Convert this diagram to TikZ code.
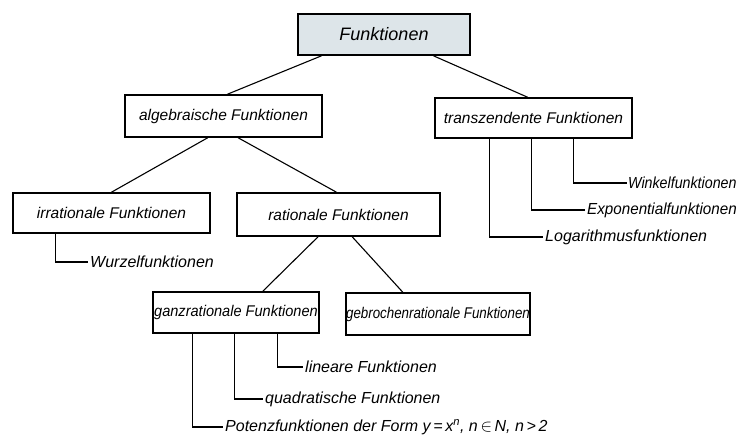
\documentclass[tikz,border=0pt]{standalone}
\usepackage{fontspec}
\setmainfont{Liberation Sans}
\usetikzlibrary{calc}
\definecolor{headfill}{HTML}{DDE5E9}

\begin{document}
\begin{tikzpicture}[x=1pt,y=-1pt,
    box/.style={draw,line width=1.6pt,inner sep=0pt,font=\fontsize{15.5}{18}\selectfont\itshape},
    leaf/.style={anchor=west,inner sep=2pt,font=\fontsize{16}{18}\selectfont\itshape},
    link/.style={line width=1.1pt}]
    \useasboundingbox (0,0) rectangle (738,440);

    % boxes
    \node[box,fill=headfill,minimum width=172pt,minimum height=41pt,font=\fontsize{18}{20}\selectfont\itshape] (fkt) at (384,34.5) {Funktionen};
    \node[box,minimum width=197pt,minimum height=42pt] (alg) at (223.5,116) {algebraische Funktionen};
    \node[box,minimum width=197pt,minimum height=40pt] (trans) at (533.5,118) {transzendente Funktionen};
    \node[box,minimum width=197pt,minimum height=40pt] (irr) at (111.5,213) {irrationale Funktionen};
    \node[box,minimum width=203pt,minimum height=43pt] (rat) at (338.5,214.5) {rationale Funktionen};
    \node[box,minimum width=166pt,minimum height=41pt] (ganz) at (236,312.5) {\scalebox{0.94}[1]{ganzrationale Funktionen}};
    \node[box,minimum width=180pt,minimum height=42pt] (gebr) at (438,314) {\scalebox{0.86}[1]{gebrochenrationale Funktionen}};

    \draw[link] ($(fkt.south west)!.14!(fkt.south east)$) -- ($(alg.north west)!.52!(alg.north east)$);
    \draw[link] ($(fkt.south west)!.785!(fkt.south east)$) -- ($(trans.north west)!.47!(trans.north east)$);
    \draw[link] ($(alg.south west)!.42!(alg.south east)$) -- ($(irr.north west)!.5!(irr.north east)$);
    \draw[link] ($(alg.south west)!.574!(alg.south east)$) -- ($(rat.north west)!.49!(rat.north east)$);
    \draw[link] ($(rat.south west)!.40!(rat.south east)$) -- ($(ganz.north west)!.66!(ganz.north east)$);
    \draw[link] ($(rat.south west)!.567!(rat.south east)$) -- ($(gebr.north west)!.31!(gebr.north east)$);

    % side branches
    \node[leaf] (wurzel) at (88,262) {Wurzelfunktionen};
    \draw[link] ($(irr.south west)!.22!(irr.south east)$) |- (wurzel.west);

    \node[leaf,inner sep=1pt] (winkel) at (627,183) {\scalebox{0.89}[1]{Winkelfunktionen}};
    \node[leaf] (expo) at (585,210) {\scalebox{0.95}[1]{Exponentialfunktionen}};
    \node[leaf] (loga) at (543,237) {Logarithmusfunktionen};
    \draw[link] ($(trans.south west)!.70!(trans.south east)$) |- (winkel.west);
    \draw[link] ($(trans.south west)!.49!(trans.south east)$) |- (expo.west);
    \draw[link] ($(trans.south west)!.28!(trans.south east)$) |- (loga.west);

    \node[leaf] (linear) at (303,367) {lineare Funktionen};
    \node[leaf] (quadr) at (263,399) {quadratische Funktionen};
    \node[leaf] (potenz) at (223,427) {Potenzfunktionen der Form y\,=\,x\textsuperscript{n}, n\,$\in$\,N, n\,>\,2};
    \draw[link] ($(ganz.south west)!.75!(ganz.south east)$) |- (linear.west);
    \draw[link] ($(ganz.south west)!.49!(ganz.south east)$) |- (quadr.west);
    \draw[link] ($(ganz.south west)!.24!(ganz.south east)$) |- (potenz.west);
\end{tikzpicture}
\end{document}
